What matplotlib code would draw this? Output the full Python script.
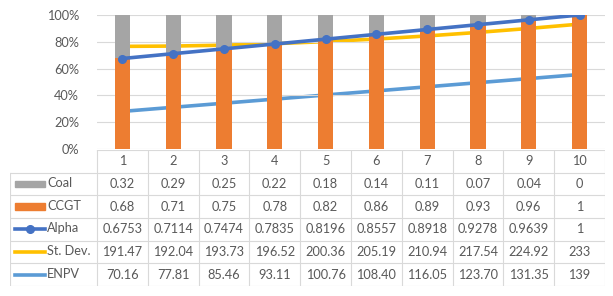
import matplotlib
matplotlib.use("Agg")
import matplotlib.pyplot as plt
from matplotlib.patches import Rectangle
from matplotlib.lines import Line2D

# data
periods = [1, 2, 3, 4, 5, 6, 7, 8, 9, 10]
coal = [0.32, 0.29, 0.25, 0.22, 0.18, 0.14, 0.11, 0.07, 0.04, 0]
ccgt = [0.68, 0.71, 0.75, 0.78, 0.82, 0.86, 0.89, 0.93, 0.96, 1]
alpha = [0.6753, 0.7114, 0.7474, 0.7835, 0.8196, 0.8557, 0.8918, 0.9278, 0.9639, 1]
st_dev = [191.47, 192.04, 193.73, 196.52, 200.36, 205.19, 210.94, 217.54, 224.92, 233]
enpv = [70.16, 77.81, 85.46, 93.11, 100.76, 108.40, 116.05, 123.70, 131.35, 139]
row_names = ["Coal", "CCGT", "Alpha", "St. Dev.", "ENPV"]
row_decimals = [2, 2, 4, 2, 2]

C_COAL = "#a5a5a5"
C_CCGT = "#ed7d31"
C_ALPHA = "#4472c4"
C_SD = "#ffc000"
C_ENPV = "#5b9bd5"
TXT = "#595959"
GRID = "#d9d9d9"

plt.rcParams['font.family'] = ['Lato', 'DejaVu Sans']
FS = 9.2
LW = 2.6

W, H = 613, 296
fig = plt.figure(figsize=(W / 100, H / 100), dpi=100)

def px(x0, y0, x1, y1):
    return [x0 / W, 1 - y1 / H, (x1 - x0) / W, (y1 - y0) / H]

# chart area
ax = fig.add_axes(px(97, 15, 605, 149))
ax.bar(periods, ccgt, width=0.3, color=C_CCGT, zorder=2)
ax.bar(periods, coal, width=0.3, bottom=ccgt, color=C_COAL, zorder=2)
ax.plot(periods, alpha, color=C_ALPHA, lw=LW, marker="o", ms=5.5, zorder=4)
ax.set_xlim(0.5, 10.5)
ax.set_ylim(0, 1)
ax.set_yticks([0, 0.2, 0.4, 0.6, 0.8, 1.0])
ax.set_yticklabels(["0%", "20%", "40%", "60%", "80%", "100%"], fontsize=FS, color=TXT)
ax.set_xticks([])
ax.tick_params(axis="y", length=0, pad=13)
ax.grid(axis="y", color=GRID, lw=0.8, zorder=0)
for s in ax.spines.values():
    s.set_visible(False)

# secondary axis (hidden) for St. Dev. and ENPV
ax2 = ax.twinx()
ax2.plot(periods, st_dev, color=C_SD, lw=LW, zorder=3)
ax2.plot(periods, enpv, color=C_ENPV, lw=LW, zorder=3)
ax2.set_ylim(0, 250)
ax2.set_xlim(0.5, 10.5)
ax2.axis("off")
ax.set_zorder(ax2.get_zorder() + 1)
ax.patch.set_visible(False)

# data table below
tx = fig.add_axes(px(10, 150, 605, 286))
cat_w = (605 - 97) / 10.0
left = 0.5 - (97 - 10) / cat_w
tx.set_xlim(left, 10.5)
tx.set_ylim(6, 0)
tx.axis("off")

lc = GRID
lw = 0.8
# horizontal lines
tx.plot([0.5, 10.5], [0, 0], color=lc, lw=lw)
for r in range(1, 7):
    tx.plot([left, 10.5], [r, r], color=lc, lw=lw)
# vertical lines
for k in range(11):
    tx.plot([0.5 + k, 0.5 + k], [0, 6], color=lc, lw=lw)
tx.plot([left, left], [1, 6], color=lc, lw=lw)

for i, p in enumerate(periods):
    tx.text(p, 0.5, str(p), ha="center", va="center", fontsize=FS, color=TXT)

rows = [coal, ccgt, alpha, st_dev, enpv]
for r, (vals, dec) in enumerate(zip(rows, row_decimals)):
    for p, v in zip(periods, vals):
        s = str(int(v)) if v == int(v) else f"{v:.{dec}f}"
        tx.text(p, r + 1.5, s, ha="center", va="center", fontsize=FS, color=TXT)

# legend keys in the table
key_x0 = left + (15 - 10) / cat_w
key_x1 = left + (45 - 10) / cat_w
name_x = left + (47 - 10) / cat_w
tx.add_patch(Rectangle((key_x0, 1.36), key_x1 - key_x0, 0.28, color=C_COAL))
tx.add_patch(Rectangle((key_x0, 2.36), key_x1 - key_x0, 0.28, color=C_CCGT))
tx.add_line(Line2D([key_x0, key_x1], [3.5, 3.5], color=C_ALPHA, lw=LW))
tx.plot([(key_x0 + key_x1) / 2], [3.5], marker="o", ms=5.5, color=C_ALPHA)
tx.add_line(Line2D([key_x0, key_x1], [4.5, 4.5], color=C_SD, lw=LW))
tx.add_line(Line2D([key_x0, key_x1], [5.5, 5.5], color=C_ENPV, lw=LW))
for r, name in enumerate(row_names):
    tx.text(name_x, r + 1.45, name, ha="left", va="center", fontsize=FS, color=TXT)

fig.savefig("out.png", dpi=100)
